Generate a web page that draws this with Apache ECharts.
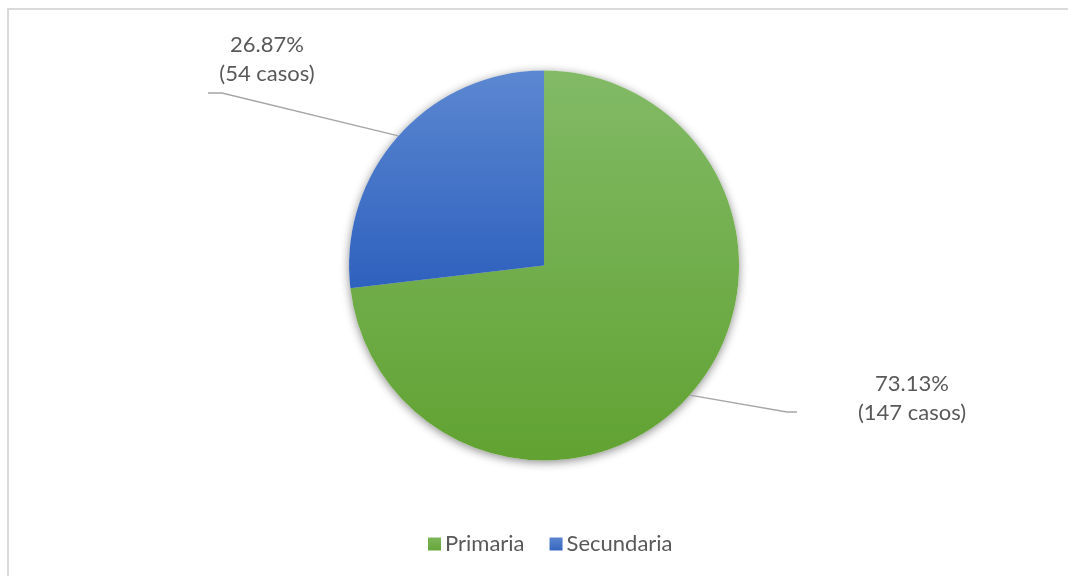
<!DOCTYPE html>
<html>
<head>
<meta charset="utf-8">
<script src="https://cdn.jsdelivr.net/npm/echarts@6/dist/echarts.min.js"></script>
<style>
  html, body { margin: 0; padding: 0; background: #ffffff; }
  #chart { width: 1068px; height: 576px; }
</style>
</head>
<body>
<div id="chart"></div>
<script>
// Nivel educativo: casos por categoría
const categories = ['Primaria', 'Secundaria'];
const casos = [147, 54];
const porcentajes = ['73.13%', '26.87%'];

const textColor = '#595959';
const fontFamily = 'Lato, "Open Sans", sans-serif';

// vertical gradients per slice
const sliceColors = [
  { type: 'linear', x: 0, y: 0, x2: 0, y2: 1, colorStops: [
    { offset: 0, color: '#82ba66' }, { offset: 1, color: '#61a232' } ] },
  { type: 'linear', x: 0, y: 0, x2: 0, y2: 1, colorStops: [
    { offset: 0, color: '#5c87d1' }, { offset: 1, color: '#2e61be' } ] }
];

// label centre and leader-line elbow offsets (relative to label centre)
const labelPlacement = [
  { x: 912, y: 398, elbow: [-125, 14], end: [-115, 14] },
  { x: 267, y: 59, elbow: [-45, 34], end: [-59, 34] }
];

const pieData = categories.map((name, i) => ({
  name: name,
  value: casos[i],
  itemStyle: { color: sliceColors[i] }
}));

const chart = echarts.init(document.getElementById('chart'));

const center = ['50.94%', '46.1%'];
const radius = 195;

chart.setOption({
  animation: false,
  backgroundColor: '#ffffff',
  graphic: [{
    type: 'rect',
    z: -10,
    shape: { x: 8, y: 9, width: 1100, height: 600 },
    style: { fill: 'none', stroke: '#d9d9d9', lineWidth: 2 }
  }],
  legend: {
    data: categories.map((name, i) => ({ name: name, itemStyle: { color: {
      type: 'linear', x: 0, y: 0, x2: 0, y2: 1, colorStops: [
        { offset: 0, color: i === 0 ? '#7cb65a' : '#5a84cf' },
        { offset: 1, color: i === 0 ? '#66a63a' : '#3666c0' } ] } } })),
    left: 423,
    top: 528,
    icon: 'rect',
    itemWidth: 13,
    itemHeight: 13,
    itemGap: 25,
    textStyle: { color: textColor, fontSize: 22, fontFamily: fontFamily, padding: [0, 0, 0, -1] }
  },
  series: [
    {
      // soft drop shadow under the pie
      type: 'pie',
      silent: true,
      center: center,
      radius: radius,
      startAngle: 90,
      z: 1,
      label: { show: false },
      labelLine: { show: false },
      data: casos.map(v => ({ value: v })),
      itemStyle: {
        color: '#ffffff',
        shadowBlur: 10,
        shadowColor: 'rgba(0,0,0,0.45)',
        shadowOffsetX: 0,
        shadowOffsetY: 2
      },
      tooltip: { show: false }
    },
    {
      type: 'pie',
      center: center,
      radius: radius,
      startAngle: 90,
      clockwise: true,
      z: 2,
      data: pieData,
      itemStyle: { borderWidth: 0 },
      label: {
        show: true,
        position: 'outside',
        formatter: p => porcentajes[p.dataIndex] + '\n(' + casos[p.dataIndex] + ' casos)',
        color: textColor,
        fontSize: 22,
        fontFamily: fontFamily,
        lineHeight: 29,
        align: 'center'
      },
      labelLine: {
        show: true,
        length: 20,
        length2: 10,
        lineStyle: { color: '#a6a6a6', width: 1.3 }
      },
      labelLayout: function (params) {
        const p = labelPlacement[params.dataIndex];
        const out = { x: p.x, y: p.y, align: 'center', verticalAlign: 'middle', moveOverlap: null };
        const pts = params.labelLinePoints;
        if (pts && pts.length) {
          out.labelLinePoints = [
            pts[0],
            [p.x + p.elbow[0], p.y + p.elbow[1]],
            [p.x + p.end[0], p.y + p.end[1]]
          ];
        }
        return out;
      }
    }
  ]
});
</script>
</body>
</html>
